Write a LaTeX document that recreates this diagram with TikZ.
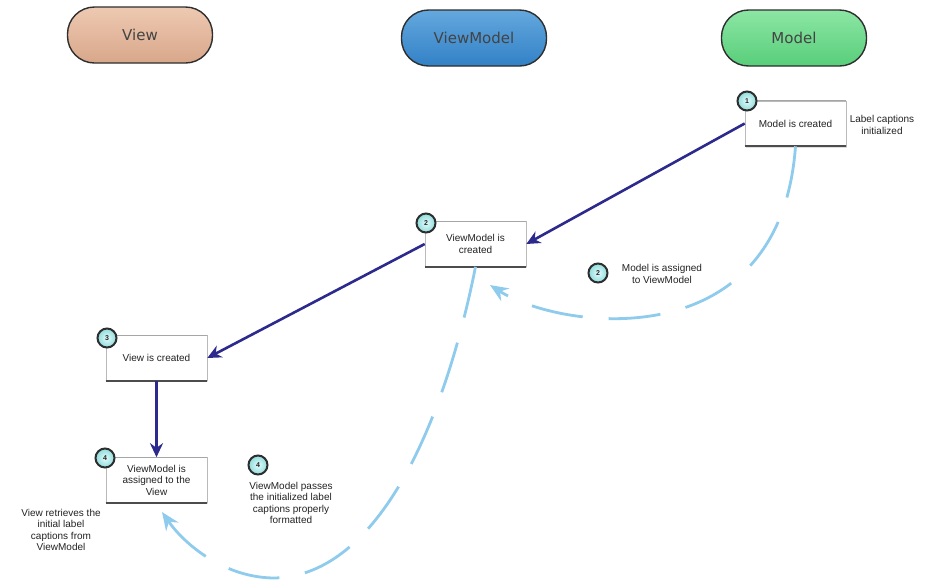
\documentclass[tikz,border=0pt]{standalone}
\usepackage{fontspec}
\setmainfont{Liberation Sans}
\newfontfamily\headfont{DejaVu Sans}
\usetikzlibrary{arrows.meta,shadows}

\definecolor{tanTop}{HTML}{EEC9B2}
\definecolor{tanBot}{HTML}{D8A78A}
\definecolor{blueTop}{HTML}{64A8DE}
\definecolor{blueBot}{HTML}{3281C6}
\definecolor{greenTop}{HTML}{8CE6A4}
\definecolor{greenBot}{HTML}{58CE7A}
\definecolor{edge}{HTML}{2E2E2E}
\definecolor{navy}{HTML}{2C2A8C}
\definecolor{flow}{HTML}{8ECBEC}
\definecolor{badgeIn}{HTML}{E4FBFB}
\definecolor{badgeOut}{HTML}{8FDCDC}
\definecolor{ink}{HTML}{222222}

\tikzset{
  header/.style={draw=edge, line width=1.4pt, rounded corners=27pt,
    minimum width=145pt, minimum height=56pt, font=\headfont\fontsize{15}{17}\selectfont,
    text=edge!90},
  stepbox/.style={draw=gray!55, line width=0.6pt, fill=white,
    minimum width=101pt, minimum height=45pt, align=center, inner sep=2pt,
    font=\fontsize{10}{11.5}\selectfont, text=ink,
    drop shadow={shadow xshift=1pt, shadow yshift=-1.5pt, opacity=0.25}},
  boxbase/.style={line width=2.2pt, draw=gray!60!black},
  badge/.style={circle, draw=edge, line width=2pt, minimum size=19pt, inner sep=0pt,
    inner color=badgeIn, outer color=badgeOut, font=\fontsize{7}{8}\selectfont\bfseries, text=ink},
  note/.style={align=center, font=\fontsize{10}{11.5}\selectfont, text=ink},
  call/.style={draw=navy, line width=2.6pt, -{Stealth[length=14pt,width=13pt]}},
  dataflow/.style={draw=flow, line width=2.8pt, dash pattern=on 52pt off 26pt,
    -{Stealth[length=18pt,width=15pt,inset=6pt]}}
}

\begin{document}
\begin{tikzpicture}[x=1pt,y=-1pt]
\useasboundingbox (0,0) rectangle (928,582);

% column headers
\node[header, top color=tanTop, bottom color=tanBot] (hView) at (140,35) {View};
\node[header, top color=blueTop, bottom color=blueBot] (hVM) at (474,38) {ViewModel};
\node[header, top color=greenTop, bottom color=greenBot] (hModel) at (794,38) {Model};

% steps
\node[stepbox] (bModel) at (795.5,123.5) {Model is created};
\node[stepbox] (bVM) at (475.5,244) {ViewModel is\\created};
\node[stepbox] (bView) at (156.5,358) {View is created};
\node[stepbox] (bAssign) at (156.5,480) {ViewModel is\\assigned to the\\View};

\foreach \b in {bModel,bVM,bView,bAssign}{
  \draw[boxbase] (\b.south west) -- (\b.south east);
  \draw[line width=1pt, gray!70] (\b.north west) -- (\b.north east);
}

% calls between steps
\draw[call] (bModel.west) -- (bVM.east);
\draw[call] (bVM.west) -- (bView.east);
\draw[call] (bView.south) -- (bAssign.north);

% data flowing back
\coordinate (vmIn) at (490,285);
\coordinate (vIn) at (162,512);
\coordinate (low) at (275,578);
\draw[dataflow] (bModel.south) .. controls (780,360) and (560,330) .. (vmIn);
\draw[dataflow] (bVM.south) .. controls (445,420) and (380,575) .. (low)
  .. controls (225,578) and (185,545) .. (vIn);

% numbered badges
\node[badge] (c1) at (747,101) {1};
\node[badge] (c2) at (426,223) {2};
\node[badge] (c3) at (107,338) {3};
\node[badge] (c4) at (105,458) {4};
\node[badge] (c2b) at (598,273) {2};
\node[badge] (c4b) at (258,465) {4};

% notes
\node[note] (nInit) at (882,125) {Label captions\\initialized};
\node[note] (nAssign) at (662,274) {Model is assigned\\to ViewModel};
\node[note] (nPass) at (291,503) {ViewModel passes\\the initialized label\\captions properly\\formatted};
\node[note] (nGet) at (61,530) {View retrieves the\\initial label\\captions from\\ViewModel};
\end{tikzpicture}
\end{document}
